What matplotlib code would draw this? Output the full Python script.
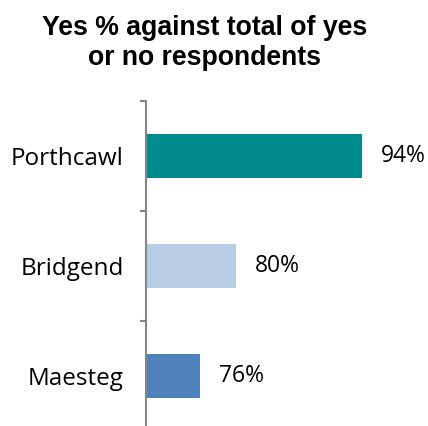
import matplotlib.pyplot as plt
from matplotlib.ticker import FixedLocator

# -- Data --
towns = ["Porthcawl", "Bridgend", "Maesteg"]
yes_pct = [94, 80, 76]
colors = ["#008B8F", "#B9CDE5", "#4F81BD"]

fig = plt.figure(figsize=(4.28, 4.26), dpi=100)
ax = fig.add_axes([146 / 428, 1 - 431 / 426, 270 / 428, 330 / 426])

ypos = list(range(len(towns)))
ax.barh(ypos, yes_pct, height=0.4, color=colors, left=0)
ax.set_xlim(70, 100)
ax.set_ylim(2.5, -0.5)

for y, v in zip(ypos, yes_pct):
    ax.text(v + 2.1, y, f"{v}%", va="center", ha="left",
            fontsize=16.5, family="Open Sans", color="#000000")

for side in ["top", "right", "bottom"]:
    ax.spines[side].set_visible(False)
ax.spines["left"].set_color("#868686")
ax.spines["left"].set_linewidth(1.5)
ax.set_xticks([])

ax.set_yticks(ypos)
ax.set_yticklabels(towns, family="Open Sans", fontsize=17.5)
ax.tick_params(axis="y", which="major", length=0, pad=16)
ax.yaxis.set_minor_locator(FixedLocator([-0.5, 0.5, 1.5, 2.5]))
ax.tick_params(axis="y", which="minor", length=4.5, width=1.5, color="#868686")

fig.text(0.478, 0.899, "Yes % against total of yes\nor no respondents",
         ha="center", va="center", fontsize=19.2, fontweight="bold",
         family="Liberation Sans", linespacing=1.2)

plt.savefig("out.png", dpi=100)
